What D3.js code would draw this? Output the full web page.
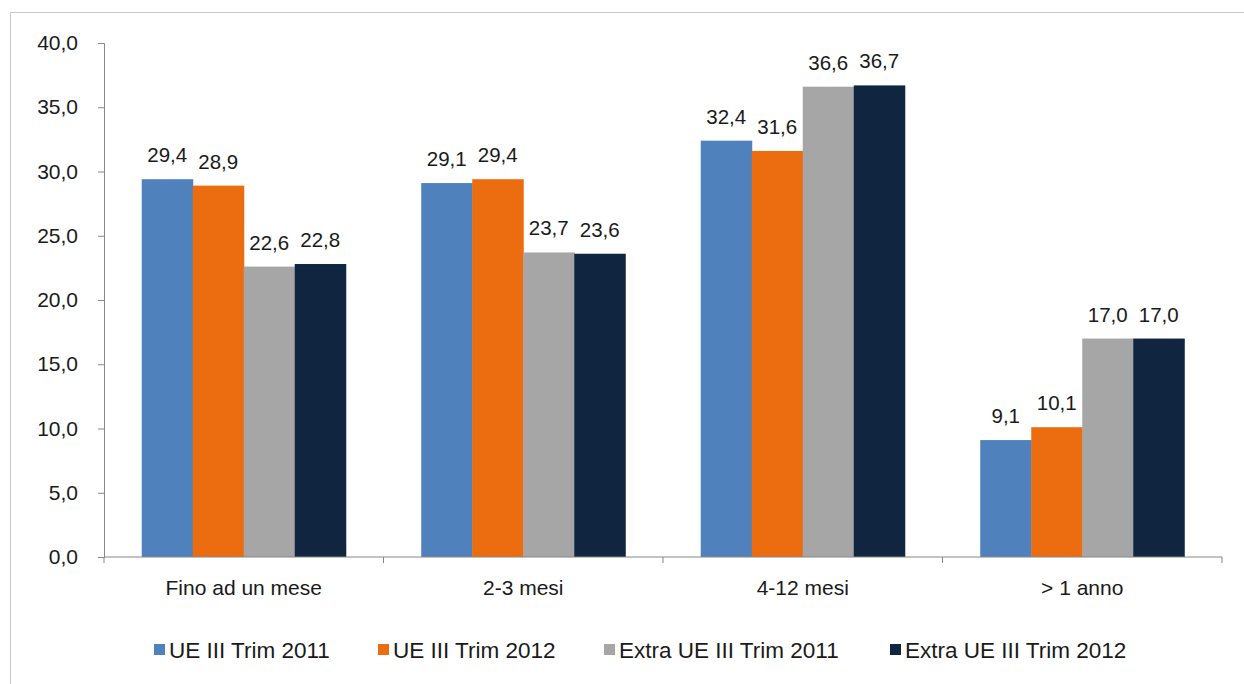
<!DOCTYPE html>
<html>
<head>
<meta charset="utf-8">
<script src="https://cdn.jsdelivr.net/npm/d3@7"></script>
<style>
    body { margin: 0; background: #fff; }
    svg { display: block; font-family: Arial, "Liberation Sans", sans-serif; }
</style>
</head>
<body>
<svg id="chart" width="1244" height="684"></svg>
<script>
// categories and series
const categories = ['Fino ad un mese', '2-3 mesi', '4-12 mesi', '> 1 anno'];
const seriesNames = ['UE III Trim 2011', 'UE III Trim 2012', 'Extra UE III Trim 2011', 'Extra UE III Trim 2012'];
const ue2011 = [29.4, 29.1, 32.4, 9.1];
const ue2012 = [28.9, 29.4, 31.6, 10.1];
const extra2011 = [22.6, 23.7, 36.6, 17.0];
const extra2012 = [22.8, 23.6, 36.7, 17.0];
const yTicks = [0, 5, 10, 15, 20, 25, 30, 35, 40];

const seriesValues = [ue2011, ue2012, extra2011, extra2012];
const colors = ['#4f81bd', '#ec6d10', '#a6a6a6', '#10253f'];

const svg = d3.select('#chart');
const margin = {top: 43, right: 22, bottom: 127, left: 104};
const width = 1244 - margin.left - margin.right;
const height = 684 - margin.top - margin.bottom;

// frame around the whole chart (only top/left edges fall inside the picture)
svg.append('rect')
    .attr('x', 10.5).attr('y', 12.5)
    .attr('width', 1250).attr('height', 700)
    .attr('fill', 'none')
    .attr('stroke', '#c8c8c8');

const g = svg.append('g').attr('transform', `translate(${margin.left},${margin.top})`);

const x0 = d3.scaleBand()
    .domain(categories)
    .range([0, width])
    .paddingInner(0.27)
    .paddingOuter(0.135);

const x1 = d3.scaleBand()
    .domain(seriesNames)
    .range([0, x0.bandwidth()]);

const y = d3.scaleLinear().domain([0, 40]).range([height, 0]);

const fmt = v => d3.format('.1f')(v).replace('.', ',');

// y axis
const yAxis = g.append('g')
    .call(d3.axisLeft(y).tickValues(yTicks).tickSize(6).tickPadding(20).tickFormat(fmt));
yAxis.select('.domain').attr('stroke', '#868686');
yAxis.selectAll('.tick line').attr('stroke', '#868686');
yAxis.selectAll('.tick text').attr('fill', '#1a1a1a').style('font-size', '21px');

// bars
const rows = categories.map((c, i) => ({
    category: c,
    values: seriesNames.map((s, j) => ({series: s, value: seriesValues[j][i], color: colors[j]}))
}));

const groups = g.selectAll('.group')
    .data(rows)
    .join('g')
    .attr('class', 'group')
    .attr('transform', d => `translate(${x0(d.category)},0)`);

groups.selectAll('rect')
    .data(d => d.values)
    .join('rect')
    .attr('x', d => x1(d.series))
    .attr('width', x1.bandwidth() + 0.5)
    .attr('y', d => y(d.value))
    .attr('height', d => y(0) - y(d.value))
    .attr('fill', d => d.color);

groups.selectAll('text.value')
    .data(d => d.values)
    .join('text')
    .attr('class', 'value')
    .attr('x', d => x1(d.series) + x1.bandwidth() / 2)
    .attr('y', d => y(d.value) - 17)
    .attr('text-anchor', 'middle')
    .attr('fill', '#1a1a1a')
    .style('font-size', '20.5px')
    .text(d => fmt(d.value));

// x axis with ticks on category boundaries
const xAxisG = g.append('g').attr('transform', `translate(0,${height})`);
xAxisG.append('line')
    .attr('x1', 0).attr('x2', width)
    .attr('stroke', '#868686');
const boundaries = d3.range(categories.length + 1).map(i => i * x0.step());
xAxisG.selectAll('.bound')
    .data(boundaries)
    .join('line')
    .attr('class', 'bound')
    .attr('x1', d => d).attr('x2', d => d)
    .attr('y1', 0).attr('y2', 6)
    .attr('stroke', '#868686');
xAxisG.selectAll('.cat')
    .data(categories)
    .join('text')
    .attr('class', 'cat')
    .attr('x', d => x0(d) + x0.bandwidth() / 2)
    .attr('y', 38)
    .attr('text-anchor', 'middle')
    .attr('fill', '#1a1a1a')
    .style('font-size', '21px')
    .text(d => d);

// legend
const legendX = [169, 393, 619, 905];
const legend = svg.append('g');
const items = legend.selectAll('g')
    .data(seriesNames)
    .join('g')
    .attr('transform', (d, i) => `translate(${legendX[i]},650)`);
items.append('rect')
    .attr('x', -15).attr('y', -6)
    .attr('width', 11).attr('height', 11)
    .attr('fill', (d, i) => colors[i]);
items.append('text')
    .attr('x', 0).attr('y', 8)
    .attr('fill', '#1a1a1a')
    .style('font-size', '22.5px')
    .text(d => d);
</script>
</body>
</html>
